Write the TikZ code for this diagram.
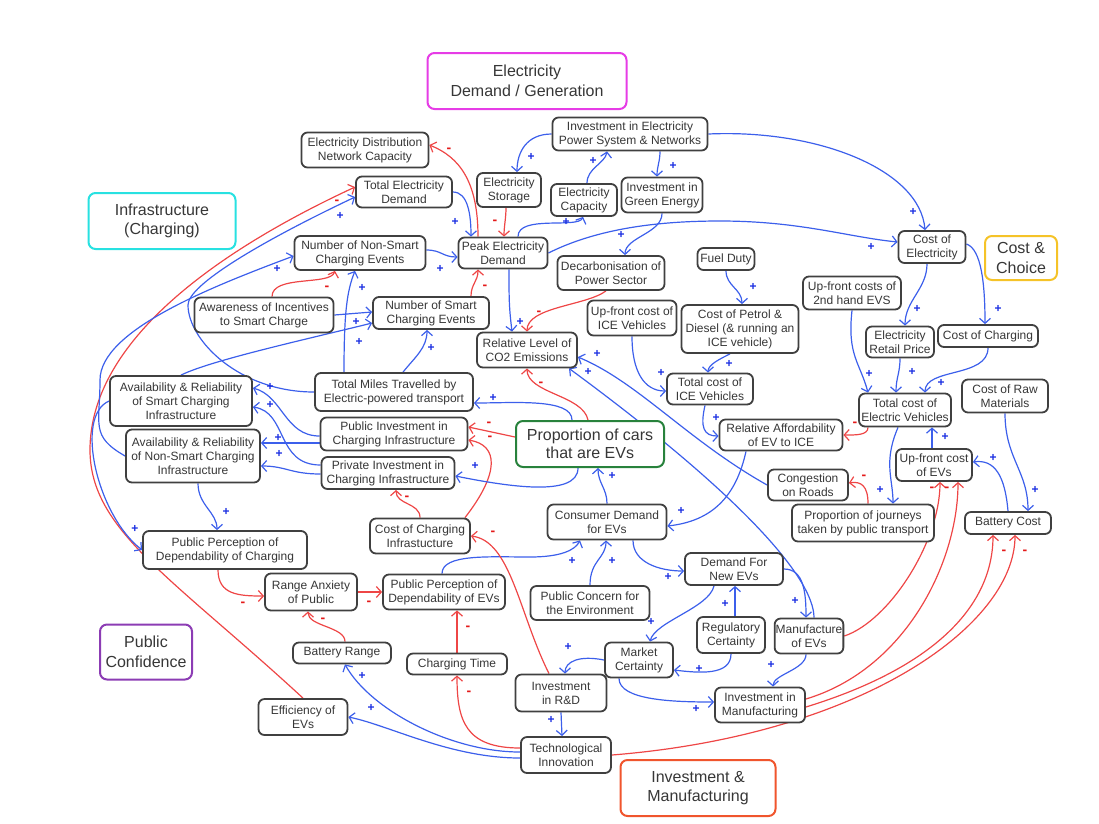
\documentclass[tikz,border=0pt]{standalone}
\usepackage{fontspec}
\setmainfont{Liberation Sans}
\usetikzlibrary{arrows.meta}
\definecolor{bl}{RGB}{60,95,235}
\definecolor{rd}{RGB}{238,70,70}
\definecolor{blL}{RGB}{25,45,225}
\definecolor{rdL}{RGB}{228,25,25}
\definecolor{bd}{RGB}{64,64,64}
\definecolor{tx}{RGB}{55,55,55}
\definecolor{cmag}{RGB}{230,60,230}
\definecolor{ccyan}{RGB}{40,225,225}
\definecolor{cyel}{RGB}{245,195,40}
\definecolor{cpur}{RGB}{140,60,180}
\definecolor{corg}{RGB}{240,85,45}
\definecolor{cgrn}{RGB}{40,130,60}
\pgfdeclarelayer{bg}
\pgfsetlayers{bg,main}
\begin{document}
\begin{tikzpicture}[x=1pt,y=-1pt,
 nd/.style={draw=bd, line width=1.8pt, rounded corners=6pt, fill=white, text=tx, align=center, inner sep=1pt, font=\fontsize{12}{14}\selectfont},
 ttl/.style={line width=2pt, rounded corners=7pt, fill=white, text=tx, align=center, font=\fontsize{16}{19.5}\selectfont},
 pe/.style={draw=bl, line width=1.2pt, -{Straight Barb[length=5pt,width=11pt]}},
 ne/.style={pe, draw=rd},
 pl/.style={text=blL, font=\bfseries\fontsize{12}{12}\selectfont, inner sep=0pt},
 mi/.style={text=rdL, font=\bfseries\fontsize{14}{14}\selectfont, inner sep=0pt},
]
\useasboundingbox (0,0) rectangle (1099,823);

% titles
\node[ttl,draw=cmag,minimum width=199pt,minimum height=56pt] (tElec) at (527,81) {Electricity\\Demand / Generation};
\node[ttl,draw=ccyan,minimum width=147pt,minimum height=56pt] (tInf) at (162,221) {Infrastructure\\(Charging)};
\node[ttl,draw=cyel,minimum width=72pt,minimum height=44pt] (tCost) at (1021,258) {Cost \&\\Choice};
\node[ttl,draw=cpur,minimum width=92pt,minimum height=55pt] (tPub) at (146,652) {Public\\Confidence};
\node[ttl,draw=corg,minimum width=155pt,minimum height=56pt] (tInv) at (698,788) {Investment \&\\Manufacturing};
\node[ttl,draw=cgrn,minimum width=148pt,minimum height=46pt,font=\fontsize{16}{18.5}\selectfont] (Prop) at (590,444) {Proportion of cars\\that are EVs};

% nodes
\node[nd,minimum width=127pt,minimum height=35pt] (EDNC) at (365,150) {Electricity Distribution\\Network Capacity};
\node[nd,minimum width=96pt,minimum height=31pt] (TED) at (404,192) {Total Electricity\\Demand};
\node[nd,minimum width=131pt,minimum height=34pt] (NNSCE) at (360,253) {Number of Non-Smart\\Charging Events};
\node[nd,minimum width=89pt,minimum height=31pt] (Peak) at (503,253) {Peak Electricity\\Demand};
\node[nd,minimum width=64pt,minimum height=34pt] (ES) at (509,190) {Electricity\\Storage};
\node[nd,minimum width=66pt,minimum height=32pt] (EC) at (584,200) {Electricity\\Capacity};
\node[nd,minimum width=155pt,minimum height=33pt] (IEPS) at (630,134) {Investment in Electricity\\Power System \& Networks};
\node[nd,minimum width=81pt,minimum height=35pt] (IGE) at (662,195) {Investment in\\Green Energy};
\node[nd,minimum width=107pt,minimum height=34pt] (DPS) at (611,273) {Decarbonisation of\\Power Sector};
\node[nd,minimum width=57pt,minimum height=22pt] (FD) at (726,259) {Fuel Duty};
\node[nd,minimum width=67pt,minimum height=32pt] (CoE) at (932,247) {Cost of\\Electricity};
\node[nd,minimum width=98pt,minimum height=33pt] (UF2) at (852,293) {Up-front costs of\\2nd hand EVS};
\node[nd,minimum width=68pt,minimum height=31pt] (ERP) at (900,342) {Electricity\\Retail Price};
\node[nd,minimum width=100pt,minimum height=22pt] (CoC) at (988,336) {Cost of Charging};
\node[nd,minimum width=92pt,minimum height=33pt] (TCEV) at (905,410) {Total cost of\\Electric Vehicles};
\node[nd,minimum width=86pt,minimum height=33pt] (CRM) at (1005,396) {Cost of Raw\\Materials};
\node[nd,minimum width=117pt,minimum height=48pt] (CPD) at (740,329) {Cost of Petrol \&\\Diesel (\& running an\\ICE vehicle)};
\node[nd,minimum width=89pt,minimum height=35pt] (UFICE) at (632,318) {Up-front cost of\\ICE Vehicles};
\node[nd,minimum width=86pt,minimum height=31pt] (TCICE) at (710,389) {Total cost of\\ICE Vehicles};
\node[nd,minimum width=123pt,minimum height=31pt] (RAEV) at (781,435) {Relative Affordability\\of EV to ICE};
\node[nd,minimum width=80pt,minimum height=31pt] (Cong) at (808,485) {Congestion\\on Roads};
\node[nd,minimum width=100pt,minimum height=35pt] (RLCO2) at (527,350) {Relative Level of\\CO2 Emissions};
\node[nd,minimum width=76pt,minimum height=32pt] (UFEV) at (934,465) {Up-front cost\\of EVs};
\node[nd,minimum width=142pt,minimum height=37pt] (PJPT) at (863,523) {Proportion of journeys\\taken by public transport};
\node[nd,minimum width=86pt,minimum height=22pt] (BC) at (1008,523) {Battery Cost};
\node[nd,minimum width=139pt,minimum height=35pt] (AISC) at (264,315) {Awareness of Incentives\\to Smart Charge};
\node[nd,minimum width=116pt,minimum height=32pt] (NSCE) at (431,313) {Number of Smart\\Charging Events};
\node[nd,minimum width=158pt,minimum height=38pt] (TMT) at (394,392) {Total Miles Travelled by\\Electric-powered transport};
\node[nd,minimum width=142pt,minimum height=50pt] (ARS) at (181,401) {Availability \& Reliability\\of Smart Charging\\Infrastructure};
\node[nd,minimum width=134pt,minimum height=53pt] (ARNS) at (193,456) {Availability \& Reliability\\of Non-Smart Charging\\Infrastructure};
\node[nd,minimum width=147pt,minimum height=33pt] (PICI) at (394,434) {Public Investment in\\Charging Infrastructure};
\node[nd,minimum width=133pt,minimum height=32pt] (PrICI) at (388,473) {Private Investment in\\Charging Infrastructure};
\node[nd,minimum width=100pt,minimum height=35pt] (CCI) at (420,536) {Cost of Charging\\Infrastucture};
\node[nd,minimum width=164pt,minimum height=38pt] (PPDC) at (225,550) {Public Perception of\\Dependability of Charging};
\node[nd,minimum width=92pt,minimum height=37pt] (RAP) at (311,592) {Range Anxiety\\of Public};
\node[nd,minimum width=122pt,minimum height=35pt] (PPDE) at (444,592) {Public Perception of\\Dependability of EVs};
\node[nd,minimum width=98pt,minimum height=21pt] (BR) at (342,653) {Battery Range};
\node[nd,minimum width=100pt,minimum height=21pt] (CT) at (457,664) {Charging Time};
\node[nd,minimum width=89pt,minimum height=36pt] (EEV) at (303,717) {Efficiency of\\EVs};
\node[nd,minimum width=119pt,minimum height=35pt] (CDEV) at (607,522) {Consumer Demand\\for EVs};
\node[nd,minimum width=98pt,minimum height=32pt] (DNEV) at (734,569) {Demand For\\New EVs};
\node[nd,minimum width=119pt,minimum height=34pt] (PCE) at (590,603) {Public Concern for\\the Environment};
\node[nd,minimum width=68pt,minimum height=36pt] (RC) at (731,635) {Regulatory\\Certainty};
\node[nd,minimum width=68pt,minimum height=35pt] (MEV) at (809,636) {Manufacture\\of EVs};
\node[nd,minimum width=68pt,minimum height=35pt] (MC) at (639,660) {Market\\Certainty};
\node[nd,minimum width=91pt,minimum height=37pt] (IRD) at (561,693) {Investment\\in R\&D};
\node[nd,minimum width=90pt,minimum height=35pt] (IM) at (760,705) {Investment in\\Manufacturing};
\node[nd,minimum width=90pt,minimum height=36pt] (TI) at (566,755) {Technological\\Innovation};

\begin{pgfonlayer}{bg}
% electricity
\draw[pe] (IEPS.west) .. controls +(-25,0) and +(0,-20) .. ([xshift=8pt]ES.north) node[pl] (l1) at (531,157) {+};
\draw[pe] ([xshift=3pt]EC.north) .. controls +(0,-15) and +(-2,12) .. ([xshift=-23pt]IEPS.south) node[pl] (l2) at (593,161) {+};
\draw[pe] ([xshift=30pt]IEPS.south) .. controls +(0,10) and +(0,-10) .. ([xshift=-5pt]IGE.north) node[pl] (l3) at (673,166) {+};
\draw[pe] (IEPS.east) .. controls +(110,-5) and +(-5,-60) .. ([xshift=-7pt]CoE.north) node[pl] (l4) at (913,212) {+};
\draw[ne] ([xshift=-3pt]ES.south) .. controls +(0,10) and +(0,-10) .. ([xshift=1pt]Peak.north) node[mi] (l5) at (495,222) {-};
\draw[pe] ([xshift=15pt]Peak.north) .. controls +(0,-22) and +(-5,12) .. ([xshift=-1pt]EC.south) node[pl] (l6) at (566,222) {+};
\draw[ne] ([xshift=-25pt]Peak.north) .. controls +(0,-55) and +(30,12) .. ([yshift=5pt]EDNC.east) node[mi] (l7) at (449,150) {-};
\draw[pe] (TED.east) .. controls +(15,0) and +(0,-22) .. ([xshift=-32pt]Peak.north) node[pl] (l8) at (455,222) {+};
\draw[pe] ([yshift=3pt]NNSCE.east) .. controls +(15,0) and +(-15,0) .. ([yshift=-4pt]Peak.west) node[pl] (l9) at (440,269) {+};
\draw[ne] ([xshift=40pt]NSCE.north) .. controls +(0,-12) and +(0,12) .. ([xshift=-25pt]Peak.south) node[mi] (l10) at (485,287) {-};
\draw[pe] ([xshift=6pt]Peak.south) .. controls +(0,30) and +(-3,-25) .. ([xshift=-15pt]RLCO2.north) node[pl] (l11) at (520,322) {+};
\draw[pe] (Peak.east) .. controls +(50,-25) and +(-60,0) .. (720,221) .. controls +(80,0) and +(-50,-5) .. ([yshift=5pt]CoE.west) node[pl] (l12) at (871,247) {+};
\draw[pe] (IGE.south) .. controls +(0,20) and +(0,-18) .. ([xshift=14pt]DPS.north) node[pl] (l13) at (621,235) {+};
\draw[ne] ([xshift=-5pt]DPS.south) .. controls +(-20,15) and +(0,-25) .. (RLCO2.north) node[mi] (l14) at (539,313) {-};
% costs
\draw[pe] (FD.south) .. controls +(0,15) and +(0,-15) .. ([xshift=2pt]CPD.north) node[pl] (l15) at (753,287) {+};
\draw[pe] ([xshift=-10pt]CPD.south) .. controls +(-10,5) and +(0,-8) .. ([xshift=-2pt]TCICE.north) node[pl] (l16) at (729,364) {+};
\draw[pe] (UFICE.south) .. controls +(0,35) and +(-22,0) .. ([yshift=-2pt]TCICE.west) node[pl] (l17) at (661,373) {+};
\draw[pe] ([xshift=-5pt]TCICE.south) .. controls +(-5,22) and +(-15,0) .. ([yshift=-1pt]RAEV.west) node[pl] (l18) at (716,418) {+};
\draw[ne] ([xshift=-37pt]TCEV.south) .. controls +(0,8) and +(12,0) .. (RAEV.east) node[mi] (l19) at (855,424) {-};
\draw[pe] ([xshift=-35pt]RAEV.south) .. controls +(-10,45) and +(45,-5) .. ([yshift=-4pt]CDEV.east) node[pl] (l20) at (681,511) {+};
\draw[pe] ([xshift=-5pt]CoE.south) .. controls +(0,25) and +(0,-25) .. ([xshift=5pt]ERP.north) node[pl] (l21) at (917,309) {+};
\draw[pe] ([yshift=3pt]CoE.east) .. controls +(15,5) and +(0,-40) .. ([xshift=-3pt]CoC.north) node[pl] (l22) at (998,309) {+};
\draw[pe] (UF2.south) .. controls +(-5,45) and +(-8,-30) .. ([xshift=-37pt]TCEV.north) node[pl] (l23) at (869,374) {+};
\draw[pe] (ERP.south) .. controls +(0,15) and +(0,-15) .. ([xshift=-9pt]TCEV.north) node[pl] (l24) at (912,372) {+};
\draw[pe] (CoC.south) .. controls +(0,30) and +(0,-25) .. ([xshift=20pt]TCEV.north) node[pl] (l25) at (941,383) {+};
\draw[pe] ([xshift=-2pt]UFEV.north) .. controls +(0,-8) and +(0,8) .. ([xshift=27pt]TCEV.south) node[pl] (l26) at (945,437) {+};
\draw[pe] (BC.north) .. controls +(-3,-35) and +(22,-3) .. ([yshift=3pt]UFEV.east) node[pl] (l27) at (993,458) {+};
\draw[pe] (CRM.south) .. controls +(0,45) and +(0,-40) .. ([xshift=20pt]BC.north) node[pl] (l28) at (1035,490) {+};
\draw[pe] ([xshift=-7pt]TCEV.south) .. controls +(-15,35) and +(0,-25) .. ([xshift=30pt]PJPT.north) node[pl] (l29) at (880,490) {+};
\draw[ne] ([xshift=5pt]PJPT.north) .. controls +(0,-18) and +(12,-2) .. ([yshift=2pt]Cong.east) node[mi] (l30) at (864,477) {-};
\draw[pe] (Cong.west) .. controls +(-80,-45) and +(60,25) .. ([yshift=-7pt]RLCO2.east) node[pl] (l31) at (597,354) {+};
\draw[pe] ([xshift=5pt]MEV.north) .. controls +(0,-40) and +(170,125) .. ([xshift=42pt]RLCO2.south) node[pl] (l32) at (588,372) {+};
% demand & manufacturing
\draw[pe] (DNEV.east) .. controls +(20,0) and +(0,-25) .. ([xshift=-3pt]MEV.north) node[pl] (l33) at (795,601) {+};
\draw[pe] ([xshift=-3pt]MEV.south) .. controls +(0,15) and +(0,-12) .. ([xshift=13pt]IM.north) node[pl] (l34) at (771,665) {+};
\draw[pe] ([xshift=26pt]CDEV.south) .. controls +(0,22) and +(-25,0) .. ([yshift=-2pt]DNEV.west) node[pl] (l35) at (668,577) {+};
\draw[pe] (CDEV.north) .. controls +(0,-15) and +(0,15) .. ([xshift=8pt]Prop.south) node[pl] (l36) at (612,476) {+};
\draw[pe] (PCE.north) .. controls +(0,-25) and +(0,18) .. ([xshift=-1pt]CDEV.south) node[pl] (l37) at (612,561) {+};
\draw[pe] ([xshift=-2pt]PPDE.north) .. controls +(0,-20) and +(-40,0) .. (530,557) .. controls +(30,0) and +(-5,10) .. ([xshift=-27pt]CDEV.south) node[pl] (l38) at (572,561) {+};
\draw[pe] ([xshift=-20pt]DNEV.south) .. controls +(-5,22) and +(5,-20) .. ([xshift=11pt]MC.north) node[pl] (l39) at (651,622) {+};
\draw[pe] ([xshift=4pt]RC.north) -- ([xshift=1pt]DNEV.south) node[pl] (l40) at (725,604) {+};
\draw[pe] (RC.south) .. controls +(0,22) and +(25,3) .. ([yshift=-10pt]MC.east) node[pl] (l41) at (699,669) {+};
\draw[pe] (MC.west) .. controls +(-25,-5) and +(0,-12) .. ([xshift=4pt]IRD.north) node[pl] (l42) at (568,647) {+};
\draw[pe] ([xshift=-20pt]MC.south) .. controls +(0,22) and +(-40,0) .. ([yshift=3pt]IM.west) node[pl] (l43) at (696,709) {+};
\draw[pe] (IRD.south) -- ([xshift=-4pt]TI.north) node[pl] (l44) at (551,720) {+};
\draw[pe] ([yshift=3pt]TI.west) .. controls +(-70,0) and +(25,45) .. ([xshift=3pt]BR.south) node[pl] (l45) at (362,676) {+};
\draw[pe] ([yshift=-3pt]TI.west) .. controls +(-70,0) and +(40,8) .. (EEV.east) node[pl] (l46) at (371,708) {+};
\draw[ne] ([yshift=7pt]TI.west) .. controls +(-55,0) and +(0,45) .. (CT.south) node[mi] (l47) at (469,693) {-};
\draw[ne] (MEV.east) .. controls +(45,-15) and +(0,60) .. ([xshift=6pt]UFEV.south) node[mi] (l48) at (932,489) {-};
\draw[ne] ([yshift=6pt]IM.east) .. controls +(100,-30) and +(0,80) .. ([xshift=24pt]UFEV.south) node[mi] (l49) at (947,489) {-};
\draw[ne] ([yshift=-2pt]IM.east) .. controls +(130,-40) and +(0,70) .. ([xshift=-15pt]BC.south) node[mi] (l50) at (1004,552) {-};
\draw[ne] (TI.east) .. controls +(250,-20) and +(0,90) .. ([xshift=7pt]BC.south) node[mi] (l51) at (1025,552) {-};
% left side
\draw[ne] (EEV.north) .. controls +(-130,-120) and +(0,80) .. (90,450) .. controls +(0,-110) and +(-136,63) .. ([yshift=5pt]TED.west) node[mi] (l52) at (337,202) {-};
\draw[pe] (TMT.west) .. controls +(-75,0) and +(0,35) .. (188,305) .. controls +(0,-20) and +(-95,45) .. ([yshift=-5pt]TED.west) node[pl] (l53) at (340,216) {+};
\draw[pe] (ARNS.west) .. controls +(-35,-20) and +(0,45) .. (100,380) .. controls +(0,-50) and +(-80,30) .. ([yshift=-3pt]NNSCE.west) node[pl] (l54) at (277,269) {+};
\draw[pe] (ARS.west) .. controls +(-35,15) and +(-45,-35) .. (PPDC.west) node[pl] (l55) at (135,529) {+};
\draw[pe] (ARS.north) .. controls +(30,-15) and +(-60,15) .. ([yshift=-10pt]NSCE.west) node[pl] (l56) at (359,342) {+};
\draw[pe] (AISC.east) -- ([yshift=1pt]NSCE.west) node[pl] (l57) at (356,322) {+};
\draw[ne] ([xshift=8pt]AISC.north) .. controls +(0,-22) and +(-5,15) .. ([xshift=-25pt]NNSCE.south) node[mi] (l58) at (327,288) {-};
\draw[pe] ([xshift=-50pt]TMT.north) .. controls +(0,-60) and +(-8,20) .. ([xshift=-5pt]NNSCE.south) node[pl] (l59) at (362,288) {+};
\draw[pe] ([xshift=9pt]TMT.north) .. controls +(12,-15) and +(0,18) .. ([xshift=-4pt]NSCE.south) node[pl] (l60) at (431,348) {+};
\draw[pe] ([xshift=5pt]ARNS.south) .. controls +(0,22) and +(0,-18) .. ([xshift=-8pt]PPDC.north) node[pl] (l61) at (226,512) {+};
\draw[pe] ([yshift=-2pt]PICI.west) .. controls +(-35,0) and +(30,8) .. ([yshift=13pt]ARS.east) node[pl] (l62) at (270,387) {+};
\draw[pe] ([yshift=8pt]PrICI.west) .. controls +(-45,0) and +(35,5) .. ([yshift=-6pt]ARS.east) node[pl] (l63) at (270,405) {+};
\draw[pe] ([yshift=-9pt]PICI.west) -- ([yshift=13pt]ARNS.east) node[pl] (l64) at (278,438) {+};
\draw[pe] ([yshift=-1pt]PrICI.west) .. controls +(-30,0) and +(25,0) .. ([yshift=-10pt]ARNS.east) node[pl] (l65) at (279,454) {+};
% proportion of EVs
\draw[pe] ([xshift=-18pt]Prop.north) .. controls +(0,-22) and +(40,0) .. ([yshift=-11pt]TMT.east) node[pl] (l66) at (493,398) {+};
\draw[ne] ([xshift=-2pt]Prop.north) .. controls +(-5,-25) and +(0,25) .. (RLCO2.south) node[mi] (l67) at (541,384) {-};
\draw[ne] ([yshift=7pt]Prop.west) -- ([yshift=7pt]PICI.east) node[mi] (l68) at (489,424) {-};
\draw[ne] ([xshift=45pt]CCI.north) .. controls +(35,-45) and +(30,5) .. ([yshift=-6pt]PICI.east) node[mi] (l69) at (490,438) {-};
\draw[pe] ([xshift=-12pt]Prop.south) .. controls +(0,30) and +(50,10) .. ([yshift=-3pt]PrICI.east) node[pl] (l70) at (475,466) {+};
\draw[ne] (CCI.north) .. controls +(0,-15) and +(0,15) .. ([xshift=8pt]PrICI.south) node[mi] (l71) at (407,498) {-};
\draw[ne] ([xshift=-12pt]IRD.north) .. controls +(-30,-60) and +(40,5) .. (CCI.east) node[mi] (l72) at (493,533) {-};
% public confidence
\draw[ne] ([xshift=-7pt]PPDC.south) .. controls +(0,25) and +(-25,0) .. ([yshift=-4pt]RAP.west) node[mi] (l73) at (243,604) {-};
\draw[ne] (RAP.east) -- (PPDE.west) node[mi] (l74) at (369,603) {-};
\draw[ne] ([xshift=3pt]BR.north) .. controls +(0,-15) and +(0,15) .. ([xshift=-3pt]RAP.south) node[mi] (l75) at (323,620) {-};
\draw[ne] (CT.north) -- ([xshift=13pt]PPDE.south) node[mi] (l76) at (468,628) {-};
\end{pgfonlayer}
\end{tikzpicture}
\end{document}
